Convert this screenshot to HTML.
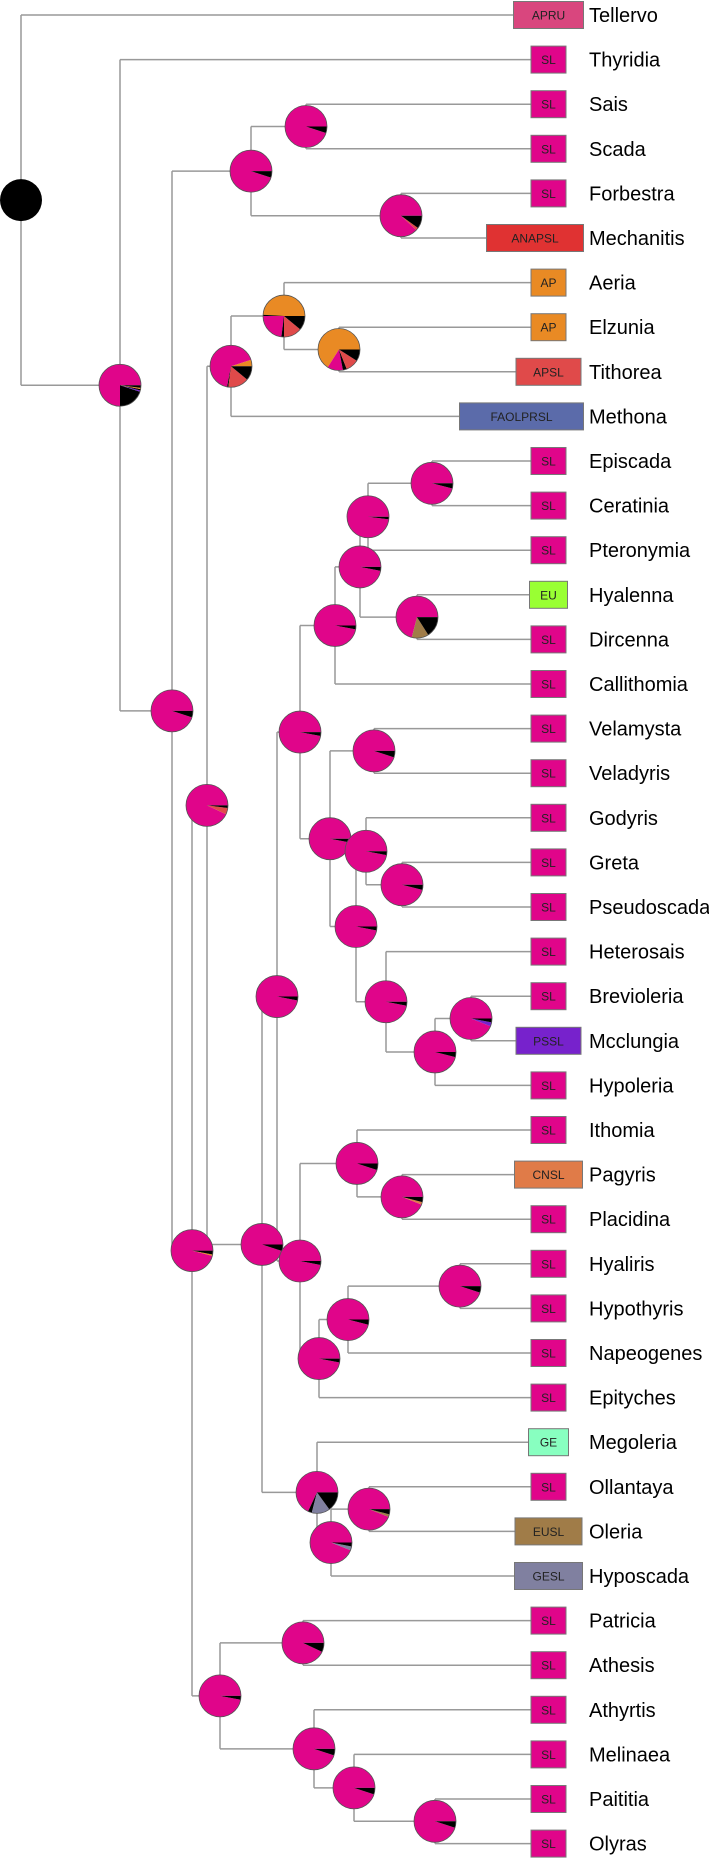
<!DOCTYPE html>
<html><head><meta charset="utf-8"><style>
html,body{margin:0;padding:0;background:#fff;}
svg{display:block;}
text{font-family:"Liberation Sans",Arial,sans-serif;}
</style></head><body>
<svg id="chart" width="709" height="1859" viewBox="0 0 709 1859" xmlns="http://www.w3.org/2000/svg"></svg>
<script>
// ---- data ----
const tipNames = ["Tellervo","Thyridia","Sais","Scada","Forbestra","Mechanitis","Aeria","Elzunia","Tithorea","Methona","Episcada","Ceratinia","Pteronymia","Hyalenna","Dircenna","Callithomia","Velamysta","Veladyris","Godyris","Greta","Pseudoscada","Heterosais","Brevioleria","Mcclungia","Hypoleria","Ithomia","Pagyris","Placidina","Hyaliris","Hypothyris","Napeogenes","Epityches","Megoleria","Ollantaya","Oleria","Hyposcada","Patricia","Athesis","Athyrtis","Melinaea","Paititia","Olyras"];
const tipStates = ["APRU","SL","SL","SL","SL","ANAPSL","AP","AP","APSL","FAOLPRSL","SL","SL","SL","EU","SL","SL","SL","SL","SL","SL","SL","SL","SL","PSSL","SL","SL","CNSL","SL","SL","SL","SL","SL","GE","SL","EUSL","GESL","SL","SL","SL","SL","SL","SL"];
const stateColors = {SL:"#E0058A",APRU:"#D9467E",ANAPSL:"#E03232",AP:"#E98A24",APSL:"#E04A4A",FAOLPRSL:"#5B6BAA",EU:"#99FF33",PSSL:"#7722CC",CNSL:"#E07B48",GE:"#88FFC0",EUSL:"#A07C48",GESL:"#8080A0"};
const boxWidths = {SL:35,AP:35,EU:38,GE:40,APSL:65,PSSL:65,CNSL:68,EUSL:67,GESL:68,APRU:70,ANAPSL:97,FAOLPRSL:124};
const M="#E0058A",K="#000000",O="#E98A24",R="#E04A4A",B="#A07C48",G="#8080A0",P="#7722CC",C="#E07B48";
const std=[[M,0.97],[K,0.03]];
const nodeIds = ["root","A","B","S","SS","MF","C","D","Dan","Aer","ET","E","F","N732","N626","N567","N517","N484","N617","N839","N752","N927","N852","N885","N1002","N1052","N1018","G","N1163","N1197","N1359","N1320","N1286","Ol","N1542","N1509","P","N1643","N1748","N1787","N1821"];
const nodeDepth = {root:21,A:120,B:172,S:251,SS:306,MF:401,C:192,D:207,Dan:231,Aer:284,ET:339,E:262,F:277,N732:300,N626:335,N567:360,N517:368,N484:432,N617:417,N839:330,N752:374,N927:356,N852:366,N885:402,N1002:386,N1052:435,N1018:471,G:300,N1163:357,N1197:402,N1359:319,N1320:348,N1286:460,Ol:317,N1542:331,N1509:369,P:220,N1643:303,N1748:314,N1787:354,N1821:435};
const nodeChildren = {root:["Tellervo","A"],A:["Thyridia","B"],B:["S","C"],S:["SS","MF"],SS:["Sais","Scada"],MF:["Forbestra","Mechanitis"],C:["D","P"],D:["Dan","E"],Dan:["Aer","Methona"],Aer:["Aeria","ET"],ET:["Elzunia","Tithorea"],E:["F","Ol"],F:["N732","G"],N732:["N626","N839"],N626:["N567","Callithomia"],N567:["N517","N617"],N517:["N484","Pteronymia"],N484:["Episcada","Ceratinia"],N617:["Hyalenna","Dircenna"],N839:["N752","N927"],N752:["Velamysta","Veladyris"],N927:["N852","N1002"],N852:["Godyris","N885"],N885:["Greta","Pseudoscada"],N1002:["Heterosais","N1052"],N1052:["N1018","Hypoleria"],N1018:["Brevioleria","Mcclungia"],G:["N1163","N1359"],N1163:["Ithomia","N1197"],N1197:["Pagyris","Placidina"],N1359:["N1320","Epityches"],N1320:["N1286","Napeogenes"],N1286:["Hyaliris","Hypothyris"],Ol:["Megoleria","N1542"],N1542:["N1509","Hyposcada"],N1509:["Ollantaya","Oleria"],P:["N1643","N1748"],N1643:["Patricia","Athesis"],N1748:["Athyrtis","N1787"],N1787:["Melinaea","N1821"],N1821:["Paititia","Olyras"]};
const nodePies = {
 root:[[K,1]],
 A:[[M,0.75],[K,0.2],[P,0.01],[K,0.01],[O,0.01],[K,0.02]],
 B:[[M,0.95],[K,0.05]], S:[[M,0.95],[K,0.05]], SS:[[M,0.95],[K,0.05]],
 MF:[[M,0.88],[R,0.02],[K,0.10]],
 C:[[M,0.96],[O,0.01],[K,0.03]], D:[[M,0.93],[R,0.05],[K,0.02]],
 Dan:[[O,0.05],[M,0.67],[K,0.01],[R,0.16],[K,0.11]],
 Aer:[[O,0.49],[K,0.01],[M,0.23],[K,0.02],[R,0.14],[K,0.11]],
 ET:[[O,0.66],[M,0.12],[K,0.03],[R,0.10],[K,0.09]],
 E:[[M,0.95],[K,0.05]], F:std, N732:std, N626:std, N567:[[M,0.97],[K,0.03]], N517:[[M,0.98],[K,0.02]],
 N484:[[M,0.96],[K,0.04]], N617:[[M,0.71],[B,0.13],[K,0.16]],
 N839:std, N752:[[M,0.95],[K,0.05]], N927:std, N852:std, N885:[[M,0.96],[K,0.04]],
 N1002:std, N1052:[[M,0.96],[K,0.04]], N1018:[[M,0.94],[P,0.03],[K,0.03]],
 G:std, N1163:[[M,0.95],[K,0.05]], N1197:[[M,0.94],[C,0.02],[K,0.04]], N1359:std, N1320:[[M,0.96],[K,0.04]],
 N1286:[[M,0.95],[K,0.05]], Ol:[[M,0.68],[K,0.03],[G,0.14],[K,0.15]], N1542:[[M,0.94],[G,0.03],[K,0.03]],
 N1509:[[M,0.94],[B,0.02],[K,0.04]], P:std, N1643:[[M,0.93],[K,0.07]], N1748:[[M,0.95],[K,0.05]],
 N1787:[[M,0.95],[K,0.05]], N1821:[[M,0.95],[K,0.05]]
};
// ---- layout ----
const svg=document.getElementById('chart');
const NS="http://www.w3.org/2000/svg";
const tipY = i => 15 + i*44.6;
const boxCenter = 548.5, boxMaxRight = 583.5, boxH = 27, nameX = 589, pieR = 21;
const boxLeft = w => Math.min(boxCenter - w/2, boxMaxRight - w);
function mk(tag, attrs){const e=document.createElementNS(NS,tag);for(const k in attrs)e.setAttribute(k,attrs[k]);return e;}
const pos={};
tipNames.forEach((n,i)=>{const s=tipStates[i];pos[n]={x:boxLeft(boxWidths[s]),y:tipY(i)};});
function place(id){if(pos[id])return pos[id];const ch=nodeChildren[id].map(place);pos[id]={x:nodeDepth[id],y:(ch[0].y+ch[ch.length-1].y)/2};return pos[id];}
place("root");
const lines=mk('g',{});


svg.appendChild(lines);
nodeIds.forEach(id=>{
  const p=pos[id];const ch=nodeChildren[id].map(c=>pos[c]);
  const v=mk('line',{x1:p.x,y1:ch[0].y,x2:p.x,y2:ch[ch.length-1].y,stroke:'#999',"stroke-width":1.5});
  
  
  lines.appendChild(v);
  nodeChildren[id].forEach(c=>{
    const q=pos[c];
    const h=mk('line',{x1:p.x,y1:q.y,x2:q.x,y2:q.y,stroke:'#999',"stroke-width":1.5});
    
    
    lines.appendChild(h);
  });
});
// tips
tipNames.forEach((n,i)=>{
  const s=tipStates[i],w=boxWidths[s],y=tipY(i),lx=boxLeft(w);
  const g=mk('g',{});
  
  
  const r=mk('rect',{x:lx,y:y-boxH/2,width:w,height:boxH,fill:stateColors[s],stroke:'#777',"stroke-width":1});
  
  
  g.appendChild(r);
  const t=mk('text',{x:lx+w/2,y:y+4.5,"text-anchor":"middle","font-size":12,fill:'#222'});
  t.textContent=s;
  
  
  g.appendChild(t);
  const nm=mk('text',{x:nameX,y:y+7,"font-size":20,fill:'#000'});
  nm.textContent=n;
  
  
  g.appendChild(nm);
  svg.appendChild(g);
});
// pies
nodeIds.forEach(id=>{
  const p=pos[id],sl=nodePies[id];
  const g=mk('g',{});
  
  
  if(sl.length===1){
    const c=mk('circle',{cx:p.x,cy:p.y,r:pieR,fill:sl[0][0]});
    
    
    g.appendChild(c);
  } else {
    let a=0;const tot=sl.reduce((s,x)=>s+x[1],0);
    sl.forEach(([col,f])=>{
      const a2=a+f/tot*2*Math.PI;
      const x1=p.x+pieR*Math.cos(a),y1=p.y-pieR*Math.sin(a);
      const x2=p.x+pieR*Math.cos(a2),y2=p.y-pieR*Math.sin(a2);
      const large=(a2-a)>Math.PI?1:0;
      const path=mk('path',{d:`M${p.x},${p.y}L${x1},${y1}A${pieR},${pieR} 0 ${large} 0 ${x2},${y2}Z`,fill:col});
      
      
      g.appendChild(path);
      a=a2;
    });
    const o=mk('circle',{cx:p.x,cy:p.y,r:pieR,fill:'none',stroke:'#555',"stroke-width":0.8});
    
    
    g.appendChild(o);
  }
  svg.appendChild(g);
});
</script>
</body></html>
